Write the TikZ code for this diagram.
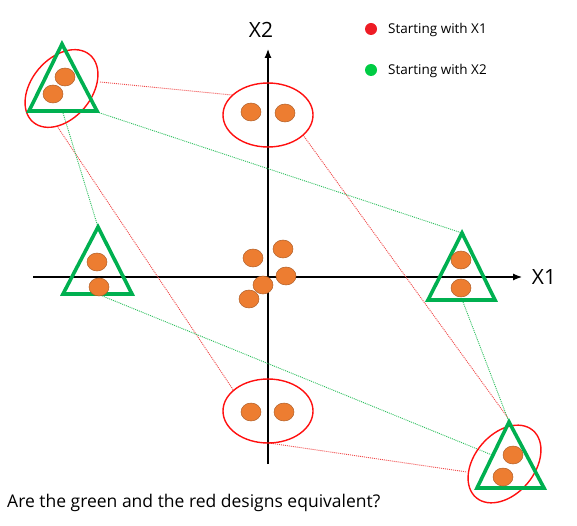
\documentclass[tikz,border=0pt]{standalone}
\usepackage{fontspec}
\setmainfont{Open Sans}
\usetikzlibrary{shapes.geometric,arrows.meta}
\definecolor{dotorange}{HTML}{ED7D31}
\definecolor{dotedge}{HTML}{B0602A}
\definecolor{trigreen}{HTML}{00B050}
\definecolor{ellred}{HTML}{FF1010}
\definecolor{linkred}{HTML}{F04848}
\definecolor{linkgreen}{HTML}{30C060}
\definecolor{legred}{HTML}{EE1C25}
\definecolor{leggreen}{HTML}{00CC44}
\begin{document}
\begin{tikzpicture}[x=1pt,y=-1pt,
  dot/.style={ellipse,fill=dotorange,draw=dotedge,line width=0.5pt,minimum width=20pt,minimum height=18pt,inner sep=0pt},
  redell/.style={ellipse,draw=ellred,line width=1.4pt,inner sep=0pt},
  tri/.style={draw=trigreen,line width=3.6pt,line join=miter},
  axis/.style={line width=1.2pt,-{Latex[length=9pt,width=7pt]}},
  redlink/.style={draw=linkred,line width=0.9pt,dash pattern=on 1pt off 1pt},
  greenlink/.style={draw=linkgreen,line width=0.9pt,dash pattern=on 1pt off 1pt},
  legtext/.style={anchor=west,inner sep=0pt,font=\fontsize{13.5}{16}\selectfont},
  axlabel/.style={inner sep=0pt,font=\fontsize{21}{25}\selectfont}]
\useasboundingbox (0,0) rectangle (577,526);
% connector end points
\coordinate (r1a) at (100,82);  \coordinate (r1b) at (232,95);
\coordinate (r2a) at (303,135); \coordinate (r2b) at (508,418);
\coordinate (r3a) at (57,126);  \coordinate (r3b) at (234,391);
\coordinate (r4a) at (269,443); \coordinate (r4b) at (467,472);
\coordinate (g1a) at (97,112);  \coordinate (g1b) at (462,233);
\coordinate (g2a) at (63,113);  \coordinate (g2b) at (98,227);
\coordinate (g3a) at (100,295); \coordinate (g3b) at (492,455);
\coordinate (g4a) at (463,302); \coordinate (g4b) at (509,422);
% axes
\coordinate (xs) at (33,277); \coordinate (xe) at (522,277);
\coordinate (ys) at (268,464); \coordinate (ye) at (268,49);
\draw[axis] (xs) -- (xe);
\draw[axis] (ys) -- (ye);
\node[axlabel] (lx1) at (544,277) {X1};
\node[axlabel] (lx2) at (261,30) {X2};
% connectors
\draw[redlink] (r1a) -- (r1b);
\draw[redlink] (r2a) -- (r2b);
\draw[redlink] (r3a) -- (r3b);
\draw[redlink] (r4a) -- (r4b);
\draw[greenlink] (g1a) -- (g1b);
\draw[greenlink] (g2a) -- (g2b);
\draw[greenlink] (g3a) -- (g3b);
\draw[greenlink] (g4a) -- (g4b);
% red ellipses
\node[redell,minimum width=88pt,minimum height=60pt,rotate=50] (eTL) at (61.5,88.5) {};
\node[redell,minimum width=90pt,minimum height=64pt] (eT) at (268,115) {};
\node[redell,minimum width=90pt,minimum height=64pt] (eB) at (268,411) {};
\node[redell,minimum width=88pt,minimum height=60pt,rotate=50] (eBR) at (504.5,464) {};
% green triangles
\draw[tri] (62,44) -- (29,111) -- (97,111) -- cycle;
\draw[tri] (98,227) -- (63,294) -- (132,294) -- cycle;
\draw[tri] (462,233) -- (428,300) -- (495,300) -- cycle;
\draw[tri] (509,422) -- (477,488) -- (544,488) -- cycle;
% dots
\node[dot] (d1) at (65,77) {};
\node[dot] (d2) at (53,94) {};
\node[dot] (d3) at (251,112) {};
\node[dot] (d4) at (285,113) {};
\node[dot] (d5) at (97,262) {};
\node[dot] (d6) at (99,287) {};
\node[dot] (d7) at (461,260) {};
\node[dot] (d8) at (461,288) {};
\node[dot] (d9) at (251,412) {};
\node[dot] (d10) at (284,412) {};
\node[dot] (d11) at (513,455) {};
\node[dot] (d12) at (503,477) {};
\node[dot] (c1) at (253,258) {};
\node[dot] (c2) at (283,249) {};
\node[dot] (c3) at (286,276) {};
\node[dot] (c4) at (263,285) {};
\node[dot] (c5) at (249,299) {};
% legend
\node[circle,fill=legred,minimum size=12pt,inner sep=0pt] (lr) at (371,29) {};
\node[legtext] (lrt) at (388,30) {Starting with X1};
\node[circle,fill=leggreen,minimum size=12pt,inner sep=0pt] (lg) at (371,70) {};
\node[legtext] (lgt) at (388,71) {Starting with X2};
% question
\node[anchor=west,inner sep=0pt,font=\fontsize{17.5}{21}\selectfont] (q) at (7,503) {Are the green and the red designs equivalent?};
\end{tikzpicture}
\end{document}
